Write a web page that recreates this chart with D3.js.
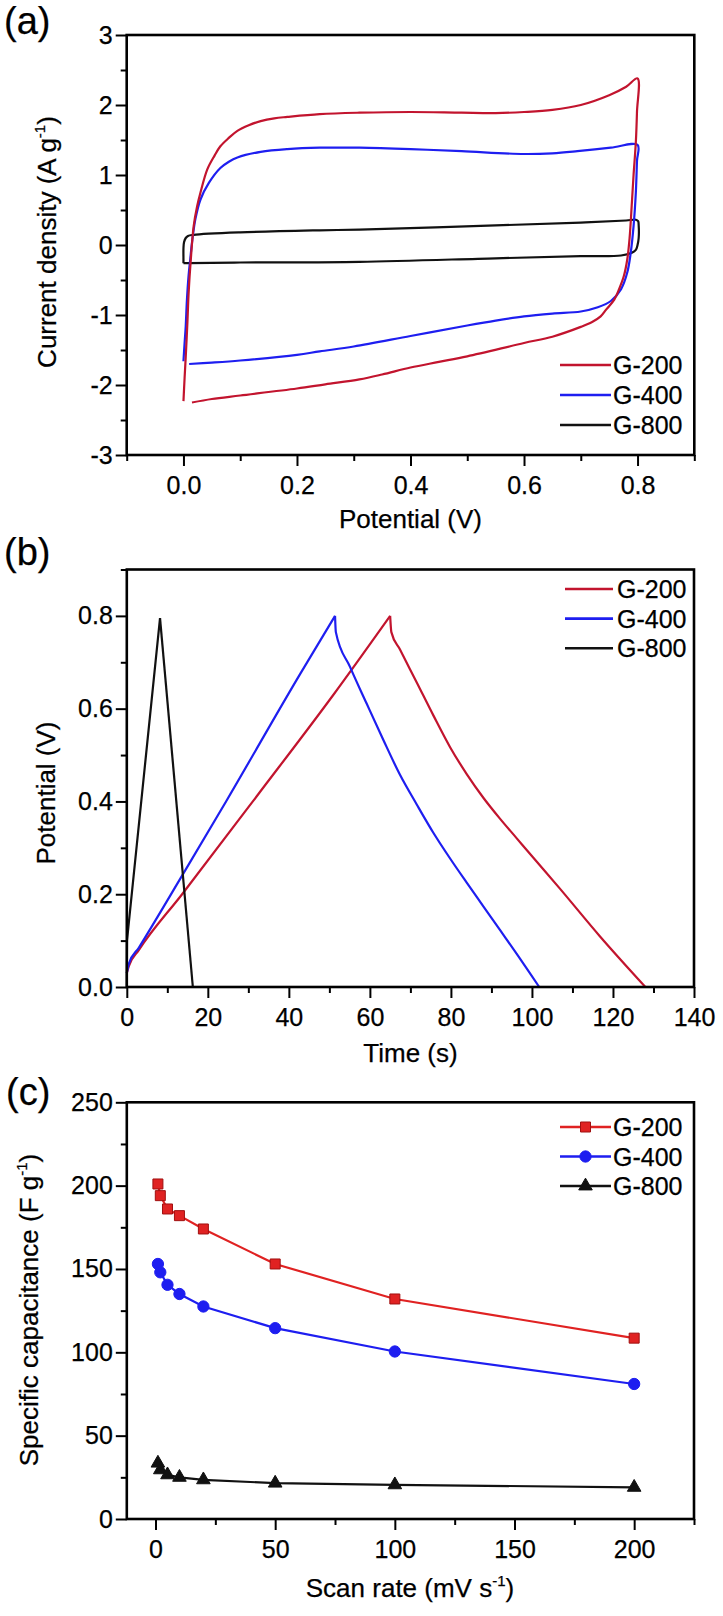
<!DOCTYPE html>
<html>
<head>
<meta charset="utf-8">
<script src="https://cdn.jsdelivr.net/npm/d3@7/dist/d3.min.js"></script>
<style>
  body { margin: 0; background: #ffffff; }
  svg { display: block; font-family: "Liberation Sans", Arial, sans-serif; }
  text { stroke: #000; stroke-width: 0.25px; }
</style>
</head>
<body>
<script>
// ---------------- DATA ----------------
// Panel (a): cyclic voltammetry, [potential V, current density A/g]
const seriesNames = ["G-200", "G-400", "G-800"];

const cvG200 = [
  [0,-2.23],[0.002,-1.9],[0.004,-1.6],[0.007,-1.1],[0.009,-0.7],[0.013,-0.2],[0.018,0.27],
  [0.024,0.55],[0.03,0.75],[0.042,1.08],[0.055,1.28],[0.065,1.41],[0.08,1.53],[0.095,1.63],
  [0.115,1.71],[0.136,1.77],[0.16,1.81],[0.183,1.83],[0.24,1.87],[0.31,1.89],[0.4,1.9],
  [0.49,1.89],[0.55,1.885],[0.6,1.9],[0.65,1.93],[0.7,2.0],[0.75,2.14],[0.78,2.26],[0.8,2.38],
  [0.799,1.9],[0.797,1.47],[0.793,1.0],[0.79,0.6],[0.786,0.1],[0.782,-0.2],[0.776,-0.44],
  [0.768,-0.62],[0.759,-0.78],[0.745,-0.92],[0.735,-1.02],[0.72,-1.1],[0.7,-1.17],
  [0.65,-1.31],[0.6,-1.4],[0.5,-1.59],[0.45,-1.67],[0.4,-1.75],[0.35,-1.85],[0.31,-1.92],
  [0.25,-1.99],[0.2,-2.05],[0.1,-2.15],[0.05,-2.2],[0.015,-2.25]
];
const cvG400 = [
  [0,-1.66],[0.002,-1.4],[0.004,-1.16],[0.006,-0.8],[0.009,-0.44],[0.012,-0.2],[0.015,0.03],
  [0.021,0.37],[0.03,0.65],[0.045,0.89],[0.065,1.1],[0.08,1.19],[0.095,1.25],[0.136,1.33],
  [0.183,1.37],[0.24,1.39],[0.31,1.39],[0.4,1.37],[0.49,1.34],[0.6,1.3],[0.65,1.31],
  [0.694,1.34],[0.753,1.39],[0.8,1.43],
  [0.799,1.2],[0.797,0.75],[0.793,0.27],[0.788,-0.11],[0.782,-0.39],[0.771,-0.63],
  [0.753,-0.8],[0.73,-0.89],[0.7,-0.95],[0.65,-0.98],[0.6,-1.02],[0.55,-1.08],[0.5,-1.15],
  [0.4,-1.3],[0.3,-1.45],[0.24,-1.52],[0.2,-1.57],[0.1,-1.65],[0.05,-1.68],[0.01,-1.7]
];
const cvG800 = [
  [0,-0.26],[0,-0.2],[0,-0.05],[0.001,0.04],[0.004,0.1],[0.008,0.13],[0.018,0.145],
  [0.1,0.18],[0.24,0.21],[0.31,0.22],[0.55,0.28],[0.7,0.32],[0.78,0.35],[0.797,0.36],
  [0.801,0.34],[0.802,0.28],[0.802,0.1],[0.8,0.0],[0.797,-0.07],[0.79,-0.11],[0.771,-0.15],
  [0.7,-0.16],[0.55,-0.19],[0.31,-0.24],[0.1,-0.25],[0.01,-0.26],[0,-0.26]
];

// Panel (b): galvanostatic charge/discharge, [time s, potential V]
const gcdG200 = [
  [0,0.03],[0.5,0.045],[3,0.08],[13.65,0.2],[32.4,0.415],[51,0.63],[65,0.8],
  [65.3,0.765],[67.4,0.728],[71.6,0.656],[75.7,0.585],[79.8,0.517],[83.9,0.459],[88,0.408],
  [92.1,0.363],[96.2,0.321],[100.3,0.279],[106.9,0.212],[116.7,0.11],[128,0]
];
const gcdG400 = [
  [0,0.03],[0.5,0.05],[3,0.085],[13.65,0.24],[24.5,0.4],[42.8,0.675],[51.4,0.8],
  [51.6,0.765],[55.1,0.69],[59.2,0.611],[63.3,0.533],[67.4,0.458],[71.6,0.393],
  [75.7,0.332],[79.8,0.277],[83.9,0.225],[88,0.174],[92.1,0.123],[96.2,0.072],[101.8,0]
];
const gcdG800 = [
  [0,0],[0.05,0.1],[0.4,0.13],[8.2,0.795],[16.3,0]
];

// Panel (c): specific capacitance vs scan rate
const scanRates = [1, 2, 5, 10, 20, 50, 100, 200];
const capG200 = [201, 194, 186, 182, 174, 153, 132, 108.5];
const capG400 = [153, 148, 140.5, 135, 127.5, 114.5, 100.5, 81];
const capG800 = [33.5, 29.5, 26.5, 25, 23.5, 21.5, 20.5, 19];

// Tick values
const aXTicks = [0, 0.2, 0.4, 0.6, 0.8];
const aXMinor = [-0.1, 0.1, 0.3, 0.5, 0.7, 0.9];
const aYTicks = [-3, -2, -1, 0, 1, 2, 3];
const aYMinor = [-2.5, -1.5, -0.5, 0.5, 1.5, 2.5];
const bXTicks = [0, 20, 40, 60, 80, 100, 120, 140];
const bXMinor = [10, 30, 50, 70, 90, 110, 130];
const bYTicks = [0, 0.2, 0.4, 0.6, 0.8];
const bYMinor = [0.1, 0.3, 0.5, 0.7, 0.9];
const cXTicks = [0, 50, 100, 150, 200];
const cXMinor = [25, 75, 125, 175, 225];
const cYTicks = [0, 50, 100, 150, 200, 250];
const cYMinor = [25, 75, 125, 175, 225];

// ---------------- DRAWING ----------------
const W = 723, H = 1616;
const svg = d3.select("body").append("svg").attr("width", W).attr("height", H);

const RED_AB = "#c2142e", BLUE = "#1e1ef0", BLACK = "#111111";
const RED_C = "#e02222";
const TICK_FONT = 25, TITLE_FONT = 26, LEG_FONT = 25;

function drawAxes(g, x, y, opts) {
  const [x0, x1] = x.range();
  const [y0, y1] = y.range();
  g.append("g").attr("transform", `translate(0,${y0})`)
    .call(d3.axisBottom(x).tickValues(opts.xMinor).tickSize(6).tickFormat(""))
    .call(s => s.select(".domain").remove());
  g.append("g").attr("transform", `translate(${x0},0)`)
    .call(d3.axisLeft(y).tickValues(opts.yMinor).tickSize(6).tickFormat(""))
    .call(s => s.select(".domain").remove());
  const xa = g.append("g").attr("transform", `translate(0,${y0})`)
    .call(d3.axisBottom(x).tickValues(opts.xTicks).tickSize(11).tickPadding(10).tickFormat(opts.xFmt));
  xa.select(".domain").remove();
  const ya = g.append("g").attr("transform", `translate(${x0},0)`)
    .call(d3.axisLeft(y).tickValues(opts.yTicks).tickSize(11).tickPadding(3).tickFormat(opts.yFmt));
  ya.select(".domain").remove();
  g.selectAll(".tick line").attr("stroke", "#000").attr("stroke-width", 2);
  g.selectAll(".tick text").attr("font-size", TICK_FONT).attr("fill", "#000")
    .attr("font-family", "'Liberation Sans', Arial, sans-serif");
  g.append("rect").attr("x", x0).attr("y", y1).attr("width", x1 - x0).attr("height", y0 - y1)
    .attr("fill", "none").attr("stroke", "#000").attr("stroke-width", 2.6);
}

function titleText(t, parts) {
  parts.forEach(p => {
    const ts = t.append("tspan").text(p.t);
    if (p.sup) ts.attr("font-size", 15).attr("dy", -11);
    if (p.after) ts.attr("dy", 11);
  });
}
function yTitle(g, cx, cy, parts) {
  const t = g.append("text").attr("transform", `translate(${cx},${cy}) rotate(-90)`)
    .attr("text-anchor", "middle").attr("font-size", TITLE_FONT).attr("fill", "#000");
  titleText(t, parts);
}
function xTitle(g, cx, cy, parts) {
  const t = g.append("text").attr("x", cx).attr("y", cy)
    .attr("text-anchor", "middle").attr("font-size", TITLE_FONT).attr("fill", "#000");
  titleText(t, parts);
}
function panelLabel(txt, x, y) {
  svg.append("text").attr("x", x).attr("y", y).attr("font-size", 38).attr("fill", "#000").text(txt);
}

// ---------- Panel (a) ----------
{
  const g = svg.append("g");
  const x = d3.scaleLinear().domain([-0.1, 0.9]).range([126.7, 694.3]);
  const y = d3.scaleLinear().domain([-3, 3]).range([455, 35]);
  const line = d3.line().x(d => x(d[0])).y(d => y(d[1])).curve(d3.curveCatmullRom.alpha(0.5));
  const cv = [cvG200, cvG400, cvG800];
  const cols = [RED_AB, BLUE, BLACK];
  [2, 1, 0].forEach(i => {
    g.append("path").datum(cv[i]).attr("d", line).attr("fill", "none")
      .attr("stroke", cols[i]).attr("stroke-width", 2.2).attr("stroke-linejoin", "round");
  });
  drawAxes(g, x, y, { xTicks: aXTicks, xMinor: aXMinor, yTicks: aYTicks, yMinor: aYMinor,
    xFmt: d3.format(".1f"), yFmt: d => String(d) });
  seriesNames.forEach((n, i) => {
    const ly = 365 + i * 30;
    g.append("line").attr("x1", 560).attr("x2", 611).attr("y1", ly).attr("y2", ly)
      .attr("stroke", cols[i]).attr("stroke-width", 2.6);
    g.append("text").attr("x", 613).attr("y", ly).attr("dy", "0.36em")
      .attr("font-size", LEG_FONT).attr("fill", "#000").text(n);
  });
  xTitle(g, 410.5, 528, [{ t: "Potential (V)" }]);
  yTitle(g, 56, 242, [{ t: "Current density (A g" }, { t: "-1", sup: true }, { t: ")", after: true }]);
  panelLabel("(a)", 4, 34);
}

// ---------- Panel (b) ----------
{
  const g = svg.append("g");
  const x = d3.scaleLinear().domain([0, 140]).range([126.8, 694]);
  const y = d3.scaleLinear().domain([0, 0.9]).range([987, 569.5]);
  const lin = d3.line().x(d => x(d[0])).y(d => y(d[1]));
  const smooth = d3.line().x(d => x(d[0])).y(d => y(d[1])).curve(d3.curveMonotoneX);
  const gcd = [gcdG200, gcdG400, gcdG800];
  const cols = [RED_AB, BLUE, BLACK];
  [0, 1, 2].forEach(i => {
    const data = gcd[i];
    const peak = d3.maxIndex(data, d => d[1]);
    const charge = data.slice(0, peak + 1);
    const discharge = data.slice(peak);
    g.append("path").datum(charge).attr("d", i === 2 ? lin : smooth).attr("fill", "none")
      .attr("stroke", cols[i]).attr("stroke-width", 2.2).attr("stroke-linejoin", "round");
    g.append("path").datum(discharge).attr("d", i === 2 ? lin : smooth).attr("fill", "none")
      .attr("stroke", cols[i]).attr("stroke-width", 2.2).attr("stroke-linejoin", "round");
  });
  drawAxes(g, x, y, { xTicks: bXTicks, xMinor: bXMinor, yTicks: bYTicks, yMinor: bYMinor,
    xFmt: d => String(d), yFmt: d3.format(".1f") });
  seriesNames.forEach((n, i) => {
    const ly = 589 + i * 29.6;
    g.append("line").attr("x1", 565).attr("x2", 613).attr("y1", ly).attr("y2", ly)
      .attr("stroke", cols[i]).attr("stroke-width", 2.6);
    g.append("text").attr("x", 617).attr("y", ly).attr("dy", "0.36em")
      .attr("font-size", LEG_FONT).attr("fill", "#000").text(n);
  });
  xTitle(g, 410.5, 1062, [{ t: "Time (s)" }]);
  yTitle(g, 55, 793, [{ t: "Potential (V)" }]);
  panelLabel("(b)", 4, 565);
}

// ---------- Panel (c) ----------
{
  const g = svg.append("g");
  const x = d3.scaleLinear().domain([-12, 225]).range([126.8, 694]);
  const y = d3.scaleLinear().domain([0, 250]).range([1519, 1102.3]);
  const line = d3.line().x(d => x(d[0])).y(d => y(d[1]));
  const caps = [capG200, capG400, capG800];
  const cols = [RED_C, BLUE, BLACK];
  const sq = d3.symbol().type(d3.symbolSquare).size(100);
  const ci = d3.symbol().type(d3.symbolCircle).size(100);
  const tr = d3.symbol().type(d3.symbolTriangle).size(80);
  const syms = [sq, ci, tr];
  const symStroke = ["#a01010", BLUE, BLACK];
  caps.forEach((vals, i) => {
    const pts = scanRates.map((r, j) => [r, vals[j]]);
    g.append("path").datum(pts).attr("d", line).attr("fill", "none")
      .attr("stroke", cols[i]).attr("stroke-width", 2.2);
    g.selectAll(null).data(pts).enter().append("path")
      .attr("transform", d => `translate(${x(d[0])},${y(d[1])})`)
      .attr("d", syms[i]).attr("fill", cols[i]).attr("stroke", symStroke[i]).attr("stroke-width", 1);
  });
  drawAxes(g, x, y, { xTicks: cXTicks, xMinor: cXMinor, yTicks: cYTicks, yMinor: cYMinor,
    xFmt: d => String(d), yFmt: d => String(d) });
  seriesNames.forEach((n, i) => {
    const ly = 1127 + i * 29.5;
    g.append("line").attr("x1", 560).attr("x2", 611).attr("y1", ly).attr("y2", ly)
      .attr("stroke", cols[i]).attr("stroke-width", 2.6);
    g.append("path").attr("transform", `translate(585.5,${ly})`).attr("d", syms[i])
      .attr("fill", cols[i]).attr("stroke", symStroke[i]).attr("stroke-width", 1);
    g.append("text").attr("x", 613).attr("y", ly).attr("dy", "0.36em")
      .attr("font-size", LEG_FONT).attr("fill", "#000").text(n);
  });
  xTitle(g, 410, 1597, [{ t: "Scan rate (mV s" }, { t: "-1", sup: true }, { t: ")", after: true }]);
  yTitle(g, 38, 1310, [{ t: "Specific capacitance (F g" }, { t: "-1", sup: true }, { t: ")", after: true }]);
  panelLabel("(c)", 6, 1105);
}
</script>
</body>
</html>
